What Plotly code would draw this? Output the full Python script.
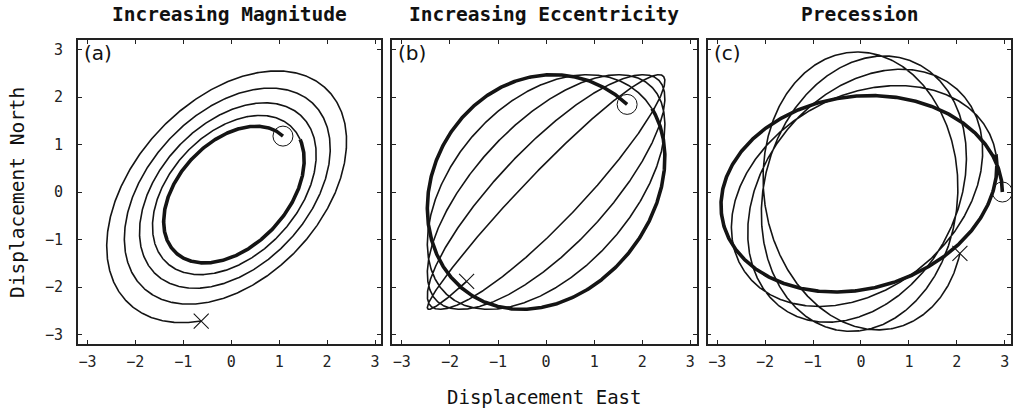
import numpy as np
import plotly.graph_objects as go

# ---- figure geometry / shared axis settings ----
W, H = 1013, 410
TICKS = [-3, -2, -1, 0, 1, 2, 3]
X_RANGE = [-3.2, 3.13]
Y_RANGE = [-3.2, 3.2]

panel_titles = ["Increasing Magnitude", "Increasing Eccentricity", "Precession"]
panel_tags = ["(a)", "(b)", "(c)"]
x_title = "Displacement East"
y_title = "Displacement North"

# ---- (a) elliptical orbit whose size grows every turn ----
mag_start_amp = 1.326          # east amplitude at the start point
mag_growth_per_turn = 1.165    # amplitude multiplier per revolution
mag_north_ratio = 1.03         # north / east amplitude
mag_phase_deg = 66.0           # north lags east by this phase
mag_turn_deg = [35.5, 1696.5]  # orbit angle at start and end
mag_bold_span_deg = 345.0      # first part drawn heavy

# ---- (b) orbit whose east/north phase collapses (eccentricity grows) ----
ecc_amp = 2.47
ecc_phase_deg = [88.7, 7.7]    # phase at start, at end
ecc_turn_deg = [47.0, 1668.0]
ecc_bold_span_deg = 340.0

# ---- (c) fixed-shape orbit whose major axis rotates ----
prec_axes = [2.95, 2.02]       # semi-major, semi-minor
prec_tilt_deg = [0.0, 108.0]   # tilt of major axis at start, at end
prec_turn_deg = [0.0, 1670.7]
prec_bold_span_deg = 350.0


def sweep(t0, t1, step=0.5):
    n = int(abs(t1 - t0) / step) + 2
    return np.linspace(t0, t1, n)


def orbit_mag(t):
    frac = (t - mag_turn_deg[0]) / 360.0
    amp = mag_start_amp * mag_growth_per_turn ** frac
    r = np.radians(t)
    x = amp * np.cos(r)
    y = amp * mag_north_ratio * np.cos(r - np.radians(mag_phase_deg))
    return x, y


def orbit_ecc(t):
    f = (t - ecc_turn_deg[0]) / (ecc_turn_deg[1] - ecc_turn_deg[0])
    ph = ecc_phase_deg[0] + (ecc_phase_deg[1] - ecc_phase_deg[0]) * f
    r = np.radians(t)
    return ecc_amp * np.cos(r), ecc_amp * np.cos(r - np.radians(ph))


def orbit_prec(t):
    f = (t - prec_turn_deg[0]) / (prec_turn_deg[1] - prec_turn_deg[0])
    th = np.radians(prec_tilt_deg[0] + (prec_tilt_deg[1] - prec_tilt_deg[0]) * f)
    r = np.radians(t)
    u = prec_axes[0] * np.cos(r)
    v = prec_axes[1] * np.sin(r)
    return u * np.cos(th) - v * np.sin(th), u * np.sin(th) + v * np.cos(th)


panels = [
    (orbit_mag, mag_turn_deg, mag_bold_span_deg),
    (orbit_ecc, ecc_turn_deg, ecc_bold_span_deg),
    (orbit_prec, prec_turn_deg, prec_bold_span_deg),
]

INK = "#141414"
fig = go.Figure()

for i, (fn, turns, bold) in enumerate(panels):
    xa = "x" if i == 0 else f"x{i + 1}"
    ya = "y" if i == 0 else f"y{i + 1}"
    t_split = turns[0] + bold
    # thin remainder of the path
    xs, ys = fn(sweep(t_split, turns[1]))
    fig.add_trace(go.Scatter(x=xs, y=ys, mode="lines", xaxis=xa, yaxis=ya,
                             line=dict(color=INK, width=1.6), showlegend=False,
                             hoverinfo="skip"))
    # heavy first turn
    xs, ys = fn(sweep(turns[0], t_split))
    fig.add_trace(go.Scatter(x=xs, y=ys, mode="lines", xaxis=xa, yaxis=ya,
                             line=dict(color=INK, width=3.6), showlegend=False,
                             hoverinfo="skip"))
    # start (circle) and end (cross) markers
    x0, y0 = fn(np.array([turns[0]]))
    x1, y1 = fn(np.array([turns[1]]))
    fig.add_trace(go.Scatter(x=x0, y=y0, mode="markers", xaxis=xa, yaxis=ya,
                             marker=dict(symbol="circle-open", size=20,
                                         color=INK, line=dict(width=1)),
                             showlegend=False, hoverinfo="skip", cliponaxis=False))
    fig.add_trace(go.Scatter(x=x1, y=y1, mode="markers", xaxis=xa, yaxis=ya,
                             marker=dict(symbol="x-thin-open", size=15,
                                         color=INK, line=dict(width=1.1, color=INK)),
                             showlegend=False, hoverinfo="skip"))

# panel placement in pixels
x_px = [(78, 382), (393, 698), (709, 1013)]
y_px = (40, 344)
ydom = [1 - y_px[1] / H, 1 - y_px[0] / H]

mono = "DejaVu Sans Mono"
axis_common = dict(
    showline=True, linecolor="#222", linewidth=1.5, mirror="ticks",
    ticks="inside", ticklen=4, tickwidth=1, tickcolor="#222",
    tickvals=TICKS, showgrid=False, zeroline=False,
    tickfont=dict(family=mono, size=15, color="#222"),
)

layout = dict(width=W, height=H, margin=dict(l=0, r=0, t=0, b=0),
              paper_bgcolor="white", plot_bgcolor="white", showlegend=False)

for i in range(3):
    sx = "" if i == 0 else str(i + 1)
    layout[f"xaxis{sx}"] = dict(axis_common, domain=[x_px[i][0] / W, x_px[i][1] / W],
                                range=X_RANGE, anchor=f"y{sx}", ticklabelstandoff=3)
    layout[f"yaxis{sx}"] = dict(axis_common, domain=ydom, range=Y_RANGE,
                                anchor=f"x{sx}", showticklabels=(i == 0),
                                ticklabelstandoff=10)

fig.update_layout(**layout)

ann = []
for i in range(3):
    cx = (x_px[i][0] + x_px[i][1]) / 2 / W
    ann.append(dict(text=f"<b>{panel_titles[i]}</b>", x=cx, y=1 - 14 / H,
                    xref="paper", yref="paper", showarrow=False,
                    xanchor="center", yanchor="middle",
                    font=dict(family=mono, size=19.5, color="#111")))
    ann.append(dict(text=panel_tags[i], x=(x_px[i][0] + 4) / W, y=1 - 53 / H,
                    xref="paper", yref="paper", showarrow=False,
                    xanchor="left", yanchor="middle",
                    font=dict(family="DejaVu Sans", size=20, color="#111")))

ann.append(dict(text=x_title, x=545.5 / W, y=1 - 397 / H, xref="paper", yref="paper",
                showarrow=False, xanchor="center", yanchor="middle",
                font=dict(family=mono, size=19, color="#111")))
ann.append(dict(text=y_title, x=17 / W, y=1 - 192 / H, xref="paper", yref="paper",
                showarrow=False, xanchor="center", yanchor="middle", textangle=-90,
                font=dict(family=mono, size=19.5, color="#111")))
fig.update_layout(annotations=ann)

fig.write_html("out.html")
